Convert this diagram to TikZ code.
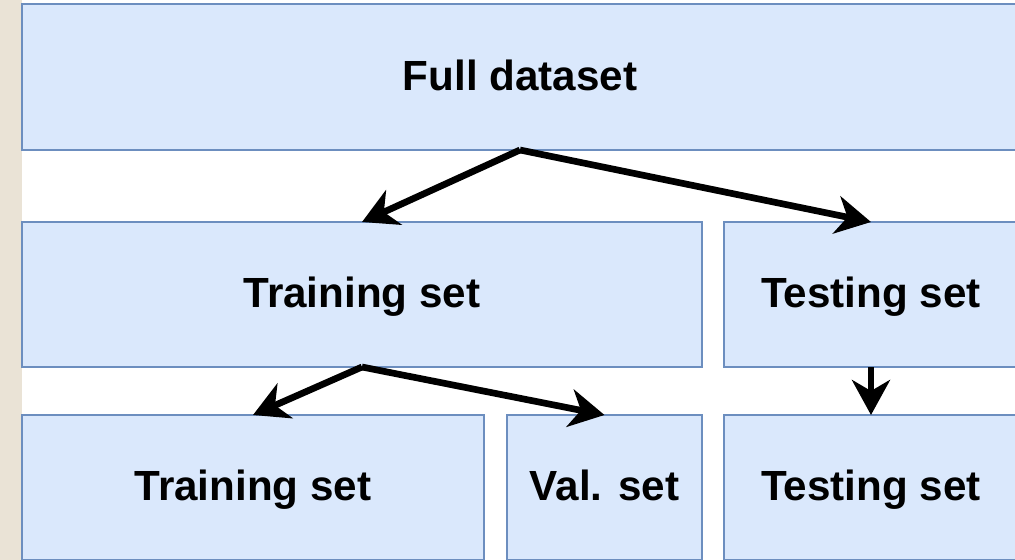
\documentclass[tikz,border=0pt]{standalone}
\usepackage{fontspec}
\setmainfont{Liberation Sans}
\usepackage{xcolor}
\usepackage{tikz}
\usetikzlibrary{arrows.meta,positioning}

\definecolor{boxfill}{HTML}{DAE8FC}
\definecolor{boxline}{HTML}{6C8EBF}
\definecolor{margin}{HTML}{EAE3D6}

\begin{document}
\begin{tikzpicture}[
  every node/.style={font=\fontsize{12}{14}\selectfont\bfseries},
  setbox/.style={draw=boxline, fill=boxfill, line width=0.6pt, inner sep=0pt,
    outer sep=0pt, minimum height=1.45cm, minimum width=#1,
    text height=0.84em, text depth=0.09em},
  split/.style={-{Stealth[length=3.5mm, width=3.8mm, inset=1.1mm]}, line width=1.9pt},
]
\useasboundingbox (0,0) rectangle (10.15,-5.60);
\clip (0,0) rectangle (10.15,-5.60);
\fill[margin] (0,0) rectangle (0.22,-5.60);

% --- top: the whole data
\node[setbox=9.96cm, minimum height=1.46cm] (full) at (5.20,-0.77) {Full dataset};

% --- first split
\node[setbox=6.80cm] (train) at (3.62,-2.945) {Training set};
\node[setbox=2.94cm] (test) at (8.71,-2.945) {Testing set};

% --- second split (validation taken from training)
\node[setbox=4.62cm] (train2) at (2.53,-4.875) {Training set};
\node[setbox=1.95cm] (val) at (6.045,-4.875) {Val. set};
\node[setbox=2.94cm] (test2) at (8.71,-4.875) {Testing set};

% arrows
\draw[split] (full.south) -- (train.north);
\draw[split] (full.south) -- (test.north);
\draw[split] (train.south) -- (train2.north);
\draw[split] (train.south) -- (val.north);
\draw[split] (test.south) -- (test2.north);
\end{tikzpicture}
\end{document}
